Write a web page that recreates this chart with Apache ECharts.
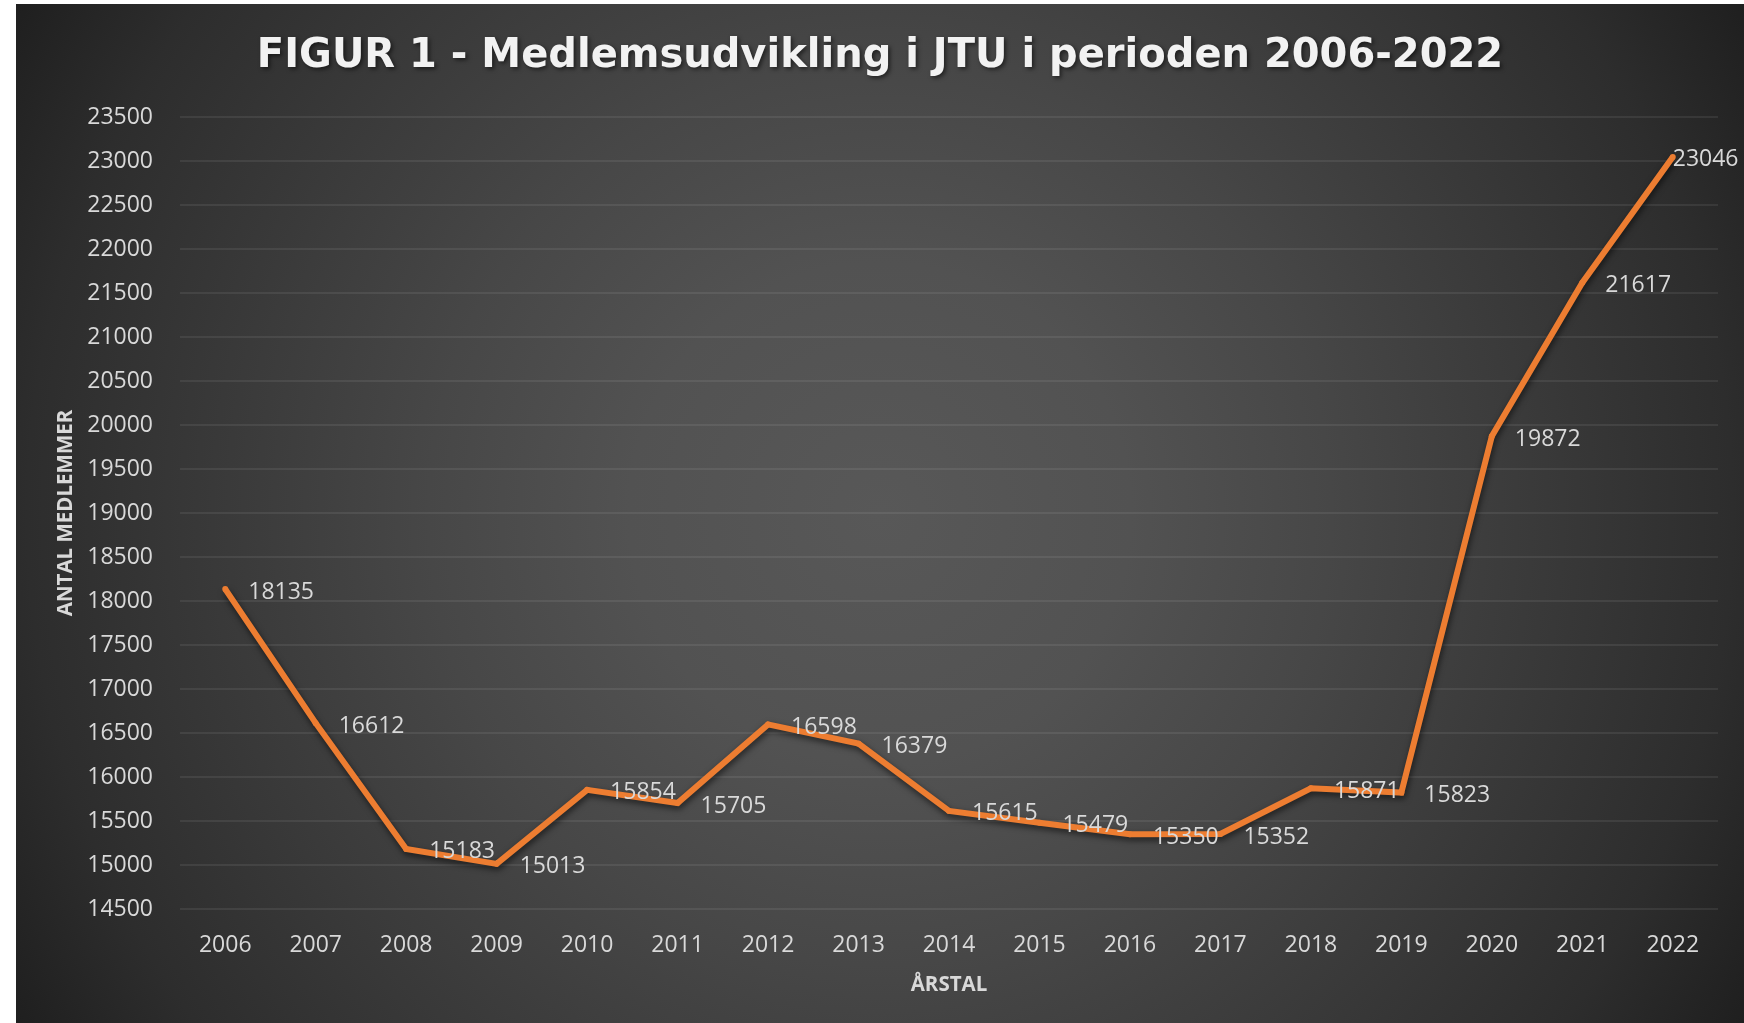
<!DOCTYPE html>
<html>
<head>
<meta charset="utf-8">
<script src="https://cdn.jsdelivr.net/npm/echarts@6/dist/echarts.min.js"></script>
<style>
  html, body { margin: 0; padding: 0; background: #ffffff; width: 1744px; height: 1023px; overflow: hidden; }
  #wrap {
    position: absolute; left: 16px; top: 4px; width: 1728px; height: 1019px;
    background: radial-gradient(circle farthest-corner at 50% 50%, #585858 0%, #525252 25%, #474747 45%, #3a3a3a 65%, #2d2d2d 85%, #1f1f1f 100%);
  }
  #chart { width: 1728px; height: 1019px; }
</style>
</head>
<body>
<div id="wrap"><div id="chart"></div></div>
<script>
const titleText = 'FIGUR 1 - Medlemsudvikling i JTU i perioden 2006-2022';
const years = ['2006','2007','2008','2009','2010','2011','2012','2013','2014','2015','2016','2017','2018','2019','2020','2021','2022'];
const members = [18135, 16612, 15183, 15013, 15854, 15705, 16598, 16379, 15615, 15479, 15350, 15352, 15871, 15823, 19872, 21617, 23046];
const yAxisName = 'ANTAL MEDLEMMER';
const xAxisName = 'ÅRSTAL';

const chart = echarts.init(document.getElementById('chart'), null, { renderer: 'canvas' });
const lastIdx = members.length - 1;
const seriesData = members.map((v, i) => i === lastIdx ? { value: v, label: { distance: -3 } } : v);

chart.setOption({
  backgroundColor: 'transparent',
  animation: false,
  title: {
    text: titleText,
    left: 'center',
    top: 28,
    textStyle: {
      fontFamily: 'DejaVu Sans',
      fontWeight: 'bold',
      fontSize: 40,
      color: '#f2f2f2',
      textShadowColor: 'rgba(0,0,0,0.55)',
      textShadowBlur: 4,
      textShadowOffsetX: 2,
      textShadowOffsetY: 2
    }
  },
  grid: { left: 164, right: 26, top: 113, bottom: 114 },
  xAxis: {
    type: 'category',
    data: years,
    boundaryGap: true,
    name: xAxisName,
    nameLocation: 'middle',
    nameGap: 66,
    nameTextStyle: { fontFamily: 'Open Sans', fontWeight: 'bold', fontSize: 20.5, color: '#d9d9d9' },
    axisLine: { show: false },
    axisTick: { show: false },
    axisLabel: { fontFamily: 'Open Sans', fontSize: 23, color: '#d9d9d9', margin: 25 },
    splitLine: { show: false }
  },
  yAxis: {
    type: 'value',
    min: 14500,
    max: 23500,
    interval: 500,
    name: yAxisName,
    nameLocation: 'middle',
    nameGap: 104,
    nameRotate: 90,
    nameTextStyle: { fontFamily: 'Open Sans', fontWeight: 'bold', fontSize: 20.5, color: '#d9d9d9', verticalAlign: 'middle' },
    axisLine: { show: false },
    axisTick: { show: false },
    axisLabel: { fontFamily: 'Open Sans', fontSize: 23, color: '#d9d9d9', margin: 27, formatter: v => String(v) },
    splitLine: { show: true, lineStyle: { color: 'rgba(255,255,255,0.1)', width: 1.5 } }
  },
  series: [{
    type: 'line',
    data: seriesData,
    symbol: 'circle',
    symbolSize: 6,
    showSymbol: true,
    itemStyle: { color: '#ed7d31' },
    lineStyle: {
      color: '#ed7d31',
      width: 6,
      shadowColor: 'rgba(0,0,0,0.6)',
      shadowBlur: 6,
      shadowOffsetX: 1,
      shadowOffsetY: 3,
      join: 'miter'
    },
    label: {
      show: true,
      position: 'right',
      distance: 20,
      offset: [0, 3],
      fontFamily: 'Open Sans',
      fontSize: 23,
      color: '#d9d9d9'
    },
    emphasis: { disabled: true }
  }]
});
</script>
</body>
</html>
